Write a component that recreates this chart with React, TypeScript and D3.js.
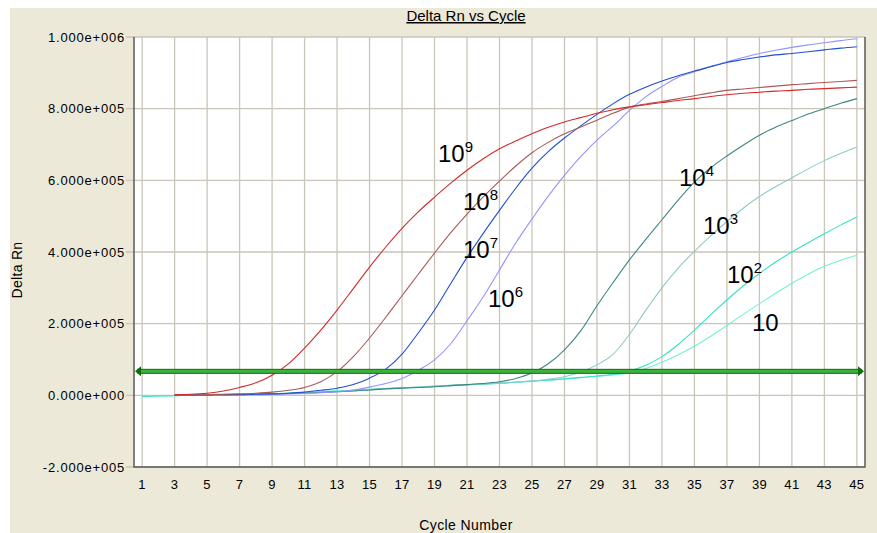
import * as d3 from 'd3'
import { useMemo } from 'react'

// cycle numbers and tick labels
const xTicks = [1, 3, 5, 7, 9, 11, 13, 15, 17, 19, 21, 23, 25, 27, 29, 31, 33, 35, 37, 39, 41, 43, 45]
const yTicks = [-200000, 0, 200000, 400000, 600000, 800000, 1000000]
const threshold = 67000

// Delta Rn readings in thousands, cycles 3..45
const rn9 = [2, 3, 6, 12, 22, 35, 56, 88, 132, 182, 238, 298, 358, 414, 466, 512, 553, 592, 628, 660, 688, 710, 730, 748, 763, 775, 787, 797, 805, 811, 817, 823, 828, 834, 839, 843, 846, 849, 851, 854, 856, 858, 860]
const rn8 = [1, 1, 2, 3, 4, 6, 9, 14, 22, 38, 66, 108, 160, 218, 278, 338, 397, 454, 506, 554, 598, 640, 677, 706, 730, 749, 768, 787, 804, 813, 820, 828, 836, 844, 851, 855, 859, 863, 867, 870, 873, 876, 879]
const rn7 = [1, 1, 1, 2, 2, 3, 4, 6, 9, 14, 20, 30, 48, 73, 115, 174, 238, 312, 385, 452, 516, 578, 634, 680, 718, 752, 784, 814, 840, 860, 877, 892, 905, 917, 929, 937, 944, 950, 954, 959, 964, 969, 973]
const rn6 = [0, 1, 1, 1, 2, 2, 3, 4, 5, 7, 10, 15, 23, 33, 47, 70, 99, 144, 208, 275, 350, 425, 492, 556, 614, 666, 712, 752, 795, 833, 862, 888, 903, 918, 931, 943, 954, 963, 971, 978, 984, 990, 995]
const rn4 = [0, 0, 1, 1, 2, 3, 4, 5, 6, 8, 10, 12, 15, 18, 20, 22, 24, 27, 30, 33, 38, 47, 62, 88, 127, 180, 250, 315, 378, 435, 490, 545, 595, 635, 668, 698, 726, 748, 767, 785, 800, 815, 828]
const rn3 = [0, 0, 1, 2, 2, 3, 4, 6, 7, 9, 11, 13, 16, 19, 21, 23, 26, 28, 30, 32, 34, 37, 40, 45, 52, 65, 85, 115, 170, 237, 300, 355, 402, 445, 485, 522, 555, 582, 607, 632, 655, 675, 693]
// cycles 1..45
const rn2 = [-3, -2, -1, 0, 1, 2, 3, 4, 5, 6, 8, 10, 12, 14, 17, 19, 21, 23, 25, 28, 30, 32, 34, 37, 40, 43, 46, 50, 54, 59, 68, 84, 108, 142, 182, 225, 266, 305, 340, 372, 400, 426, 451, 475, 498]
const rn1 = [-3, -2, -1, 0, 1, 2, 3, 4, 5, 6, 8, 10, 12, 14, 16, 18, 20, 22, 24, 27, 29, 31, 33, 36, 39, 42, 45, 49, 53, 57, 63, 75, 92, 113, 137, 165, 195, 226, 256, 285, 313, 338, 360, 377, 391]

const series = [
    { name: '10', exp: '', start: 1, values: rn1, color: '#72F2D2', lx: 752, ly: 331 },
    { name: '10', exp: '2', start: 1, values: rn2, color: '#34E4C4', lx: 727, ly: 283 },
    { name: '10', exp: '3', start: 3, values: rn3, color: '#8ECACA', lx: 703, ly: 234 },
    { name: '10', exp: '4', start: 3, values: rn4, color: '#3E8686', lx: 679, ly: 186 },
    { name: '10', exp: '6', start: 3, values: rn6, color: '#9494FA', lx: 488, ly: 307 },
    { name: '10', exp: '7', start: 3, values: rn7, color: '#2050D0', lx: 463, ly: 258 },
    { name: '10', exp: '8', start: 3, values: rn8, color: '#A85A5A', lx: 463, ly: 210 },
    { name: '10', exp: '9', start: 3, values: rn9, color: '#D42A2A', lx: 438, ly: 162 },
]

const fmtExp = (v: number) => {
    if (v === 0) return '0.000e+000'
    const e = Math.floor(Math.log10(Math.abs(v)))
    const m = v / Math.pow(10, e)
    return `${m.toFixed(3)}e${e >= 0 ? '+' : '-'}${String(Math.abs(e)).padStart(3, '0')}`
}

const font = '"Liberation Sans", Arial, sans-serif'

const App = () => {
    const svgWidth = 877
    const svgHeight = 533
    const left = 134
    const right = 865
    const top = 37
    const bottom = 467

    const x = useMemo(() => d3.scaleLinear().domain([0.5, 45.5]).range([left, right]), [])
    const y = useMemo(() => d3.scaleLinear().domain([-200000, 1000000]).range([bottom, top]), [])

    const line = d3
        .line<[number, number]>()
        .x(d => x(d[0]))
        .y(d => y(d[1] * 1000))
        .curve(d3.curveMonotoneX)

    const grid = '#C9C5B9'
    const ty = y(threshold)

    return (
        <svg width={svgWidth} height={svgHeight} style={{ position: 'absolute', left: 0, top: 0 }} fontFamily={font}>
            <rect x={0} y={0} width={svgWidth} height={svgHeight} fill='#fff' />
            <rect x={10} y={8} width={svgWidth - 10} height={svgHeight - 8} fill='#ECE9D8' />
            <rect x={left} y={top} width={right - left} height={bottom - top} fill='#fff' />

            {/* grid */}
            {xTicks.map(t => (
                <line key={'gx' + t} x1={x(t)} x2={x(t)} y1={top} y2={bottom} stroke={grid} strokeWidth={1.3} />
            ))}
            {yTicks.map(t => (
                <line key={'gy' + t} x1={left - 8} x2={right} y1={y(t)} y2={y(t)} stroke={grid} strokeWidth={1.3} />
            ))}

            {/* axes */}
            <path d={`M ${left} ${top} V ${bottom} H ${right} V ${top}`} fill='none' stroke='#5A5A5A' strokeWidth={1.5} />

            {/* curves */}
            {series.map((s, i) => (
                <path
                    key={i}
                    d={line(s.values.map((v, j) => [s.start + j, v] as [number, number])) || ''}
                    fill='none'
                    stroke={s.color}
                    strokeWidth={1.1}
                />
            ))}

            {/* threshold */}
            <rect x={left + 4} y={ty - 2} width={right - left - 8} height={4} fill='#3DB33D' stroke='#0A6E0A' strokeWidth={1} />
            <path d={`M ${left + 1} ${ty} L ${left + 7} ${ty - 5} L ${left + 7} ${ty + 5} Z`} fill='#0A6E0A' />
            <path d={`M ${right - 1} ${ty} L ${right - 7} ${ty - 5} L ${right - 7} ${ty + 5} Z`} fill='#0A6E0A' />

            {/* series labels */}
            {series.map((s, i) => (
                <text key={'l' + i} x={s.lx} y={s.ly} fontSize={24} fill='#000'>
                    {s.name}
                    {s.exp && <tspan dy={-10} fontSize={15}>{s.exp}</tspan>}
                </text>
            ))}

            {/* tick labels */}
            {yTicks.map(t => (
                <text key={'ty' + t} x={125} y={y(t)} dy='0.35em' textAnchor='end' fontSize={13} letterSpacing={0.8} fill='#000'>
                    {fmtExp(t)}
                </text>
            ))}
            {xTicks.map(t => (
                <text key={'tx' + t} x={x(t)} y={489} textAnchor='middle' fontSize={13} letterSpacing={0.3} fill='#000'>
                    {t}
                </text>
            ))}

            {/* titles */}
            <text x={466} y={21} textAnchor='middle' fontSize={15} textDecoration='underline' fill='#000'>
                Delta Rn vs Cycle
            </text>
            <text x={466} y={530} textAnchor='middle' fontSize={14} letterSpacing={0.4} fill='#000'>
                Cycle Number
            </text>
            <text transform='translate(22,270) rotate(-90)' textAnchor='middle' fontSize={14} letterSpacing={0.3} fill='#000'>
                Delta Rn
            </text>
        </svg>
    )
}

export default App
